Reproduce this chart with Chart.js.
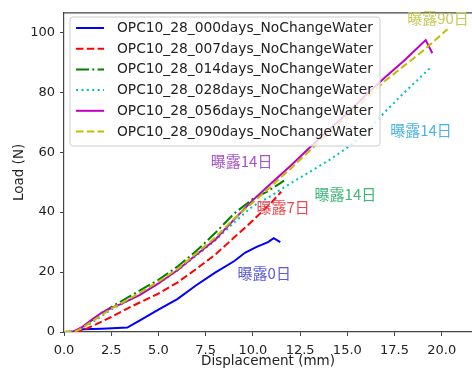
<!DOCTYPE html>
<html>
<head>
<meta charset="utf-8">
<script src="https://cdn.jsdelivr.net/npm/chart.js@4.4.1/dist/chart.umd.min.js"></script>
<style>
    html, body { margin: 0; padding: 0; background: #fff; }
    #chart { display: block; }
</style>
</head>
<body>
<canvas id="chart" width="472" height="371"></canvas>
<script>

    // Series names
    const seriesNames = [
        'OPC10_28_000days_NoChangeWater',
        'OPC10_28_007days_NoChangeWater',
        'OPC10_28_014days_NoChangeWater',
        'OPC10_28_028days_NoChangeWater',
        'OPC10_28_056days_NoChangeWater',
        'OPC10_28_090days_NoChangeWater'
    ];

    // Displacement (mm) / Load (N)
    const disp000 = [0, 0.6, 1.0, 2.0, 3.35, 4.0, 5.0, 6.0, 7.0, 8.0, 9.0, 9.6, 10.2, 10.8, 11.1, 11.45];
    const load000 = [0, 0.2, 0.9, 1.1, 1.5, 3.8, 7.5, 11.0, 15.6, 19.8, 23.6, 26.5, 28.4, 30.0, 31.3, 30.0];

    const disp007 = [0, 0.7, 1.0, 1.5, 2.5, 3.5, 5.0, 6.0, 7.0, 8.0, 9.0, 10.0, 11.0, 11.5];
    const load007 = [0, 0, 0.5, 2.0, 5.0, 8.3, 12.8, 16.5, 21.0, 25.8, 31.5, 37.2, 43.3, 46.8];

    const disp014 = [0, 0.6, 1.0, 1.5, 2.5, 3.5, 5.0, 6.0, 7.0, 8.0, 9.0, 10.0, 10.8, 11.65];
    const load014 = [0, 0.2, 1.8, 4.0, 8.3, 12.0, 17.4, 21.8, 27.0, 33.0, 39.5, 44.4, 47.0, 50.5];

    const disp028 = [0, 0.7, 1.0, 1.5, 2.5, 3.5, 5.0, 6.0, 7.0, 8.0, 9.0, 10.0, 11.0, 11.5, 12.5, 13.5, 14.1, 15.0, 16.0, 17.0, 18.0, 19.0, 19.45];
    const load028 = [0, 0.1, 1.5, 3.2, 7.5, 10.8, 16.2, 20.5, 25.5, 30.5, 36.5, 42.0, 45.5, 47.7, 51.5, 55.3, 57.6, 61.5, 66.5, 73.5, 79.8, 85.8, 88.5];

    const disp056 = [0, 0.5, 1.0, 1.5, 2.0, 2.5, 3.0, 4.0, 5.0, 6.0, 7.0, 8.0, 9.0, 10.0, 11.0, 12.0, 13.0, 14.0, 15.0, 16.0, 17.0, 18.0, 19.15, 19.5];
    const load056 = [0, 0.1, 1.8, 4.2, 6.5, 8.0, 9.3, 12.3, 16.2, 20.6, 25.8, 30.8, 37.5, 44.0, 49.8, 55.5, 61.5, 67.3, 73.0, 79.2, 85.0, 90.5, 97.4, 93.0];

    const disp090 = [0, 0.6, 1.0, 1.5, 2.5, 3.5, 5.0, 6.0, 7.0, 8.0, 9.0, 10.0, 11.0, 12.0, 13.0, 14.0, 15.0, 16.0, 17.0, 18.0, 19.0, 20.3];
    const load090 = [0, 0.1, 1.5, 3.6, 7.8, 11.2, 16.8, 21.0, 26.2, 31.5, 37.8, 43.2, 48.8, 54.5, 60.5, 66.2, 72.0, 78.0, 83.8, 88.8, 93.8, 101.0];

    // Text notes on the plot (data coordinates)
    const noteTexts = ['曝露90日', '曝露14日', '曝露14日', '曝露14日', '曝露7日', '曝露0日'];
    const noteX = [19.8, 18.9, 9.4, 14.9, 11.6, 10.6];
    const noteY = [104.5, 67.3, 57.0, 46.1, 41.5, 19.6];
    const noteColors = ['#c5cb55', '#4ab4e8', '#a553c8', '#3cb878', '#f0474f', '#5a5ae0'];

    const seriesX = [disp000, disp007, disp014, disp028, disp056, disp090];
    const seriesY = [load000, load007, load014, load028, load056, load090];
    const seriesColors = ['#0000ff', '#ff0000', '#008000', '#00bfbf', '#bf00bf', '#bfbf00'];
    const seriesDash = [[], [7.5, 3.3], [13, 3.3, 2, 3.3], [2, 3.4], [], [7.5, 3.3]];

    const FONT = "'DejaVu Sans', sans-serif";

    const toPoints = (xs, ys) => xs.map((x, i) => ({ x: x, y: ys[i] }));

    let datasets = seriesNames.map((name, i) => ({
        label: name,
        data: toPoints(seriesX[i], seriesY[i]),
        borderColor: seriesColors[i],
        backgroundColor: seriesColors[i],
        borderDash: seriesDash[i],
        borderWidth: 2,
        pointRadius: 0,
        tension: 0,
        fill: false,
        order: seriesNames.length - i
    }));

    // top spine, legend box and text notes
    const extrasPlugin = {
        id: 'extras',
        afterDatasetsDraw(chart) {
            const ctx = chart.ctx;
            const area = chart.chartArea;
            const xs = chart.scales.x;
            const ys = chart.scales.y;

            ctx.save();
            ctx.strokeStyle = '#444';
            ctx.lineWidth = 1.2;
            ctx.beginPath();
            ctx.moveTo(area.left, area.top);
            ctx.lineTo(area.right, area.top);
            ctx.stroke();

            // notes
            ctx.font = "15px 'Noto Sans CJK JP', sans-serif";
            ctx.textAlign = 'center';
            ctx.textBaseline = 'middle';
            noteTexts.forEach((t, i) => {
                ctx.fillStyle = noteColors[i];
                ctx.fillText(t, xs.getPixelForValue(noteX[i]), ys.getPixelForValue(noteY[i]));
            });

            // legend
            const bx = 70, by = 17, bw = 310, bh = 129, r = 3;
            ctx.beginPath();
            ctx.moveTo(bx + r, by);
            ctx.arcTo(bx + bw, by, bx + bw, by + bh, r);
            ctx.arcTo(bx + bw, by + bh, bx, by + bh, r);
            ctx.arcTo(bx, by + bh, bx, by, r);
            ctx.arcTo(bx, by, bx + bw, by, r);
            ctx.closePath();
            ctx.fillStyle = 'rgba(255,255,255,0.8)';
            ctx.fill();
            ctx.strokeStyle = '#cccccc';
            ctx.lineWidth = 1;
            ctx.stroke();

            ctx.font = '13.8px ' + FONT;
            ctx.textAlign = 'left';
            chart.data.datasets.forEach((ds, i) => {
                const cy = 28 + i * 20.7;
                ctx.strokeStyle = ds.borderColor;
                ctx.lineWidth = 2;
                ctx.setLineDash(ds.borderDash);
                ctx.beginPath();
                ctx.moveTo(76, cy);
                ctx.lineTo(104, cy);
                ctx.stroke();
                ctx.setLineDash([]);
                ctx.fillStyle = '#222';
                ctx.fillText(ds.label, 117, cy + 0.5);
            });
            ctx.restore();
        }
    };

    const chart = new Chart(document.getElementById('chart'), {
        type: 'line',
        data: { datasets: datasets },
        options: {
            responsive: false,
            devicePixelRatio: 1,
            animation: false,
            layout: { padding: { top: 11, right: 0, left: 0, bottom: 0 } },
            plugins: {
                legend: { display: false },
                tooltip: { enabled: false }
            },
            scales: {
                x: {
                    type: 'linear',
                    min: 0,
                    max: 21.6,
                    afterFit: (scale) => { scale.height = 39; },
                    grid: { display: true, drawOnChartArea: false, drawTicks: true, tickLength: 4, color: '#444' },
                    border: { display: true, color: '#444', width: 1.2 },
                    ticks: {
                        stepSize: 2.5,
                        includeBounds: false,
                        maxRotation: 0,
                        autoSkip: false,
                        padding: 7,
                        color: '#222',
                        font: { family: FONT, size: 13 },
                        callback: (v) => v.toFixed(1)
                    },
                    title: {
                        display: true,
                        text: 'Displacement (mm)',
                        color: '#222',
                        font: { family: FONT, size: 13.5 },
                        padding: { top: 0, bottom: 1 }
                    }
                },
                y: {
                    min: 0,
                    max: 106.5,
                    afterFit: (scale) => { scale.width = 64; },
                    grid: { display: true, drawOnChartArea: false, drawTicks: true, tickLength: 4, color: '#444' },
                    border: { display: true, color: '#444', width: 1.2 },
                    ticks: {
                        stepSize: 20,
                        includeBounds: false,
                        padding: 5,
                        color: '#222',
                        font: { family: FONT, size: 13 }
                    },
                    title: {
                        display: true,
                        text: 'Load (N)',
                        color: '#222',
                        font: { family: FONT, size: 13.5 },
                        padding: { top: 11, bottom: 0 }
                    }
                }
            }
        },
        plugins: [extrasPlugin]
    });

</script>
</body>
</html>
